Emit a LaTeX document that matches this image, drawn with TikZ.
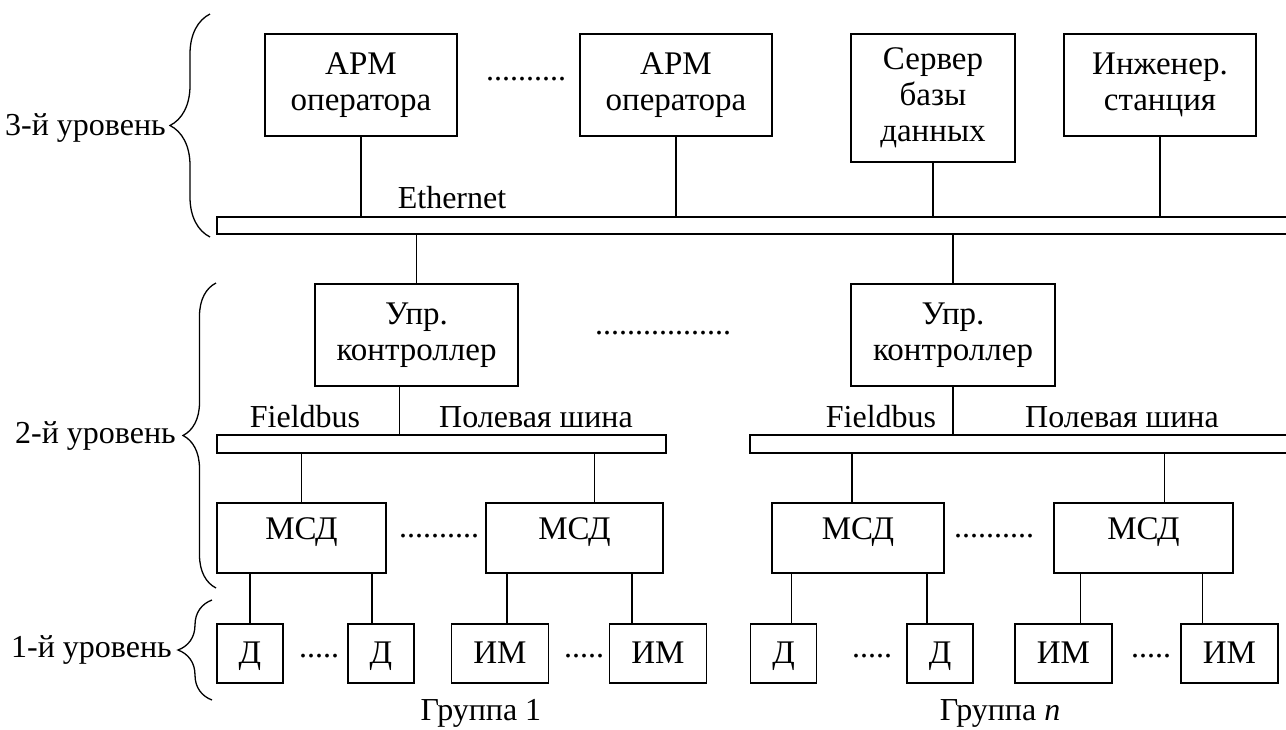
\documentclass[tikz,border=0pt]{standalone}
\usepackage{fontspec}
\setmainfont{Liberation Serif}
\usetikzlibrary{decorations.pathreplacing}
\begin{document}
\begin{tikzpicture}[x=1pt,y=-1pt,
  btxt/.style={font=\fontsize{33}{36}\selectfont},
  txt/.style={font=\fontsize{32}{36}\selectfont},
  box/.style={draw, line width=1.5pt, inner sep=0pt, align=center, btxt},
  one/.style={box, text height=22pt, text depth=2pt},
  msd/.style={box, text height=22pt, text depth=20pt, minimum height=70pt},
  bar/.style={draw, line width=1.5pt, inner sep=0pt, minimum height=17pt},
  lbl/.style={inner sep=0pt, txt},
  conn/.style={line width=1.5pt},
  brc/.style={decorate, decoration={brace, amplitude=#1}, line width=1.3pt}]
\useasboundingbox (0,0) rectangle (1286,729);

% level 3
\node[box, minimum width=192pt, minimum height=102pt] (apm1) at (361,85) {АРМ\\оператора};
\node[box, minimum width=192pt, minimum height=102pt] (apm2) at (676,85) {АРМ\\оператора};
\node[box, minimum width=164pt, minimum height=128pt] (srv) at (933,98) {Сервер\\базы\\данных};
\node[box, minimum width=192pt, minimum height=102pt] (eng) at (1160,85) {Инженер.\\станция};
\node[lbl, anchor=base west] (dots1) at (486,80) {..........};

\node[bar, minimum width=1083pt] (eth) at (758.5,225.5) {};
\node[lbl, anchor=base] (ethl) at (452,208) {Ethernet};

\draw[conn] (apm1.south) -- (apm1.south |- eth.north);
\draw[conn] (apm2.south) -- (apm2.south |- eth.north);
\draw[conn] (srv.south) -- (srv.south |- eth.north);
\draw[conn] (eng.south) -- (eng.south |- eth.north);

% level 2
\node[box, minimum width=203pt, minimum height=102pt] (ctl1) at (416.5,335) {Упр.\\контроллер};
\node[box, minimum width=204pt, minimum height=102pt] (ctl2) at (953,335) {Упр.\\контроллер};
\node[lbl, anchor=base west] (dots2) at (595,334) {.................};

\draw[conn] (ctl1.north) -- (ctl1.north |- eth.south);
\draw[conn] (ctl2.north) -- (ctl2.north |- eth.south);

\node[bar, minimum width=449pt, minimum height=18pt] (fb1) at (441.5,444) {};
\node[bar, minimum width=550pt, minimum height=18pt] (fb2) at (1025,444) {};
\node[lbl, anchor=base] (fbl1) at (305,427) {Fieldbus};
\node[lbl, anchor=base] (psh1) at (536,427) {Полевая шина};
\node[lbl, anchor=base] (fbl2) at (881,427) {Fieldbus};
\node[lbl, anchor=base] (psh2) at (1122,427) {Полевая шина};

\draw[conn] ([xshift=-17pt]ctl1.south) -- ([xshift=-17pt]ctl1.south |- fb1.north);
\draw[conn] (ctl2.south) -- (ctl2.south |- fb2.north);

\node[msd, minimum width=169pt] (msd1) at (301.5,538) {МСД};
\node[msd, minimum width=177pt] (msd2) at (574.5,538) {МСД};
\node[msd, minimum width=172pt] (msd3) at (858,538) {МСД};
\node[msd, minimum width=179pt] (msd4) at (1143.5,538) {МСД};
\node[lbl, anchor=base west] (dots3) at (399,537) {..........};
\node[lbl, anchor=base west] (dots4) at (954,537) {..........};

\draw[conn] (msd1.north) -- (msd1.north |- fb1.south);
\draw[conn] ([xshift=20pt]msd2.north) -- ([xshift=20pt]msd2.north |- fb1.south);
\draw[conn] ([xshift=-6pt]msd3.north) -- ([xshift=-6pt]msd3.north |- fb2.south);
\draw[conn] ([xshift=21pt]msd4.north) -- ([xshift=21pt]msd4.north |- fb2.south);

% level 1
\node[one, minimum width=66pt, minimum height=59pt] (d1) at (250,653.5) {Д};
\node[one, minimum width=66pt, minimum height=59pt] (d2) at (381,653.5) {Д};
\node[one, minimum width=97pt, minimum height=59pt] (im1) at (500,653.5) {ИМ};
\node[one, minimum width=97pt, minimum height=59pt] (im2) at (658,653.5) {ИМ};
\node[one, minimum width=66pt, minimum height=59pt] (d3) at (783.5,653.5) {Д};
\node[one, minimum width=66pt, minimum height=59pt] (d4) at (940,653.5) {Д};
\node[one, minimum width=97pt, minimum height=59pt] (im3) at (1063.5,653.5) {ИМ};
\node[one, minimum width=97pt, minimum height=59pt] (im4) at (1229.5,653.5) {ИМ};
\node[lbl, anchor=base west] (dots5) at (299,657) {.....};
\node[lbl, anchor=base west] (dots6) at (564,657) {.....};
\node[lbl, anchor=base west] (dots7) at (852,657) {.....};
\node[lbl, anchor=base west] (dots8) at (1131,657) {.....};

\draw[conn] (d1.north) -- (d1.north |- msd1.south);
\draw[conn] ([xshift=-9pt]d2.north) -- ([xshift=-9pt]d2.north |- msd1.south);
\draw[conn] ([xshift=7pt]im1.north) -- ([xshift=7pt]im1.north |- msd2.south);
\draw[conn] ([xshift=-26pt]im2.north) -- ([xshift=-26pt]im2.north |- msd2.south);
\draw[conn] ([xshift=8pt]d3.north) -- ([xshift=8pt]d3.north |- msd3.south);
\draw[conn] ([xshift=-13pt]d4.north) -- ([xshift=-13pt]d4.north |- msd3.south);
\draw[conn] ([xshift=17pt]im3.north) -- ([xshift=17pt]im3.north |- msd4.south);
\draw[conn] ([xshift=-27pt]im4.north) -- ([xshift=-27pt]im4.north |- msd4.south);

\node[lbl, anchor=base] (g1) at (481,720) {Группа 1};
\node[lbl, anchor=base] (gn) at (1000,720) {Группа \textit{n}};

% braces and level labels
\coordinate (b3a) at (210,237);
\coordinate (b3b) at (210,14);
\draw[brc=40pt] (b3a) -- (b3b);
\node[lbl, anchor=east] (l3) at (166,128) {3-й уровень};
\coordinate (b2a) at (216,588);
\coordinate (b2b) at (216,283);
\draw[brc=33pt] (b2a) -- (b2b);
\node[lbl, anchor=east] (l2) at (176,436) {2-й уровень};
\coordinate (b1a) at (212,700);
\coordinate (b1b) at (212,600);
\draw[brc=34pt] (b1a) -- (b1b);
\node[lbl, anchor=east] (l1) at (172,650) {1-й уровень};
\end{tikzpicture}
\end{document}
